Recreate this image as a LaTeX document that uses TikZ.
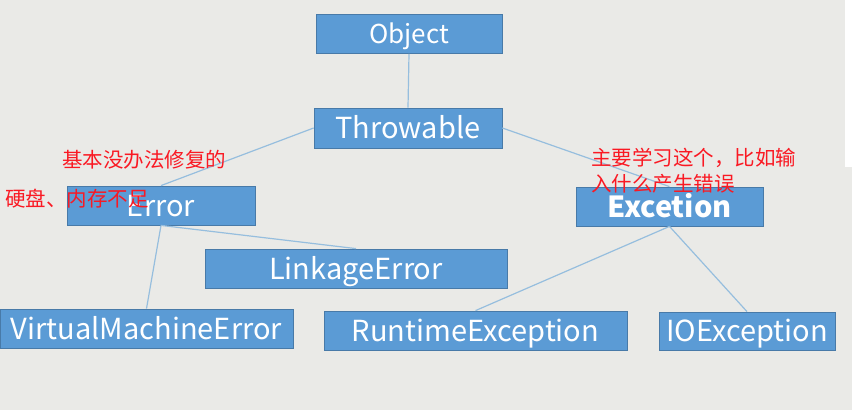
\documentclass[tikz,border=0pt]{standalone}
\usepackage{fontspec}
\usepackage{tikz}
\newfontfamily\cjk{Noto Sans CJK SC}
\definecolor{boxblue}{RGB}{91,155,213}
\definecolor{boxedge}{RGB}{72,122,168}
\definecolor{linkblue}{RGB}{150,190,222}
\definecolor{paper}{RGB}{234,234,231}
\definecolor{notered}{RGB}{250,25,35}

\begin{document}
\begin{tikzpicture}[x=1pt, y=-1pt,
    every node/.style={align=center},
    cls/.style={draw=boxedge, line width=0.8pt, fill=boxblue, text=white,
                font=\cjk\fontsize{29}{32}\selectfont,
                text height=21pt, text depth=0pt,
                minimum height=39pt, inner sep=0pt},
    link/.style={linkblue, line width=1.2pt},
    note/.style={text=notered, font=\cjk\fontsize{20.5}{26}\selectfont,
                 anchor=north west, inner sep=0pt, align=left}
]
\useasboundingbox (0,0) rectangle (852,410);
\fill[paper] (0,0) rectangle (852,410);
\fill[white] (845,0) rectangle (852,167);

% class boxes
\node[cls, minimum width=186pt, text height=19pt, font=\cjk\fontsize{26}{28}\selectfont] (object) at (409,34) {Object};
\node[cls, minimum width=188pt, minimum height=40pt] (throwable) at (408,128) {Throwable};
\node[cls, minimum width=188pt] (error) at (161,205.5) {Error};
\node[cls, minimum width=187pt, font=\cjk\bfseries\fontsize{29}{32}\selectfont] (excetion) at (669.5,206.5) {Excetion};
\node[cls, minimum width=302pt] (linkage) at (356,268.5) {LinkageError};
\node[cls, minimum width=293pt] (vme) at (146.5,328.5) {VirtualMachineError};
\node[cls, minimum width=303pt] (runtime) at (475.5,330.5) {RuntimeException};
\node[cls, minimum width=176pt, minimum height=38pt] (ioex) at (747,331) {IOException};

% links
\draw[link] (object.south) -- (throwable.north);
\draw[link] (throwable.west) -- (error.north);
\draw[link] (throwable.east) -- (excetion.north);
\draw[link] (error.south) -- (linkage.north);
\draw[link] (error.south) -- (vme.north);
\draw[link] (excetion.south) -- (runtime.north);
\draw[link] (excetion.south) -- (ioex.north);

% red notes
\node[note] (noteA) at (62,150) {基本没办法修复的};
\node[note] (noteB) at (5,189) {硬盘、内存不足};
\node[note] (noteC) at (591,148) {主要学习这个，比如输\\入什么产生错误};
\end{tikzpicture}
\end{document}
